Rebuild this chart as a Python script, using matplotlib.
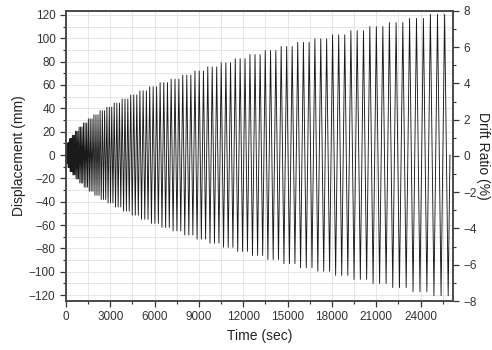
import numpy as np
import matplotlib
matplotlib.use('Agg')
import matplotlib.pyplot as plt
from matplotlib.ticker import MultipleLocator

amplitudes = [3.5, 7, 10.5, 14, 17, 20.5, 24, 27.5, 31, 34.5, 38, 41,
              44.5, 48, 51.5, 55, 58.5, 62, 65, 68.5, 72, 75.5, 79, 82.5,
              86, 89.5, 93, 96.5, 99.5, 103, 106.5, 110, 113.5, 117, 120.5]
cycles_per_step = 3
rate = 1.0  # mm/sec, constant actuator speed

x_ticks = [0, 3000, 6000, 9000, 12000, 15000, 18000, 21000, 24000]
left_ticks = list(range(-120, 121, 20))
right_ticks = list(range(-8, 9, 2))

# build the triangular displacement history
disp = [0.0]
for a in amplitudes:
    for _ in range(cycles_per_step):
        disp += [a, -a]
disp.append(0.0)
disp = np.array(disp)
time = np.concatenate([[0.0], np.cumsum(np.abs(np.diff(disp)) / rate)])

plt.rcParams['font.family'] = ['Liberation Sans', 'DejaVu Sans']
fig = plt.figure(figsize=(4.92, 3.5), dpi=100)
ax = fig.add_axes([0.134, 0.14, 0.787, 0.829])

ax.plot(time, disp, color='#1a1a1a', lw=0.65)

ax.set_xlim(0, 26200)
ax.set_ylim(-125, 123.5)
ax.set_xticks(x_ticks)
ax.set_yticks(left_ticks)
ax.xaxis.set_minor_locator(MultipleLocator(1500))
ax.yaxis.set_minor_locator(MultipleLocator(10))
ax.grid(which='both', color='#e2e2e2', lw=0.6)
ax.set_axisbelow(True)

ax.tick_params(axis='both', which='both', direction='out', labelsize=8.5,
               colors='#333333', top=False)
ax.tick_params(which='major', length=4, width=0.9)
ax.tick_params(which='minor', length=2.5, width=0.8)
ax.set_xlabel('Time (sec)', fontsize=10, color='#222222', labelpad=4)
ax.set_ylabel('Displacement (mm)', fontsize=10, color='#222222', labelpad=2)

ax2 = ax.twinx()
ax2.set_ylim(-8, 8)
ax2.set_yticks(right_ticks)
ax2.yaxis.set_minor_locator(MultipleLocator(1))
ax2.tick_params(axis='y', which='both', direction='out', labelsize=8.5,
                colors='#333333')
ax2.tick_params(axis='y', which='major', length=4, width=0.9)
ax2.tick_params(axis='y', which='minor', length=2.5, width=0.8)
# inward ticks on the top spine (x locators shared with ax)
ax2.tick_params(axis='x', which='both', direction='in', top=True,
                bottom=False, labeltop=False, labelbottom=False,
                colors='#333333')
ax2.tick_params(axis='x', which='major', length=4, width=0.9)
ax2.tick_params(axis='x', which='minor', length=2.5, width=0.8)
ax2.set_ylabel('Drift Ratio (%)', fontsize=10, color='#222222',
               rotation=270, va='center', ha='center')
ax2.yaxis.set_label_coords(1.078, 0.5)

for a in (ax, ax2):
    for s in a.spines.values():
        s.set_color('#444444')
        s.set_linewidth(1.1)

fig.savefig('out.png', dpi=100)
